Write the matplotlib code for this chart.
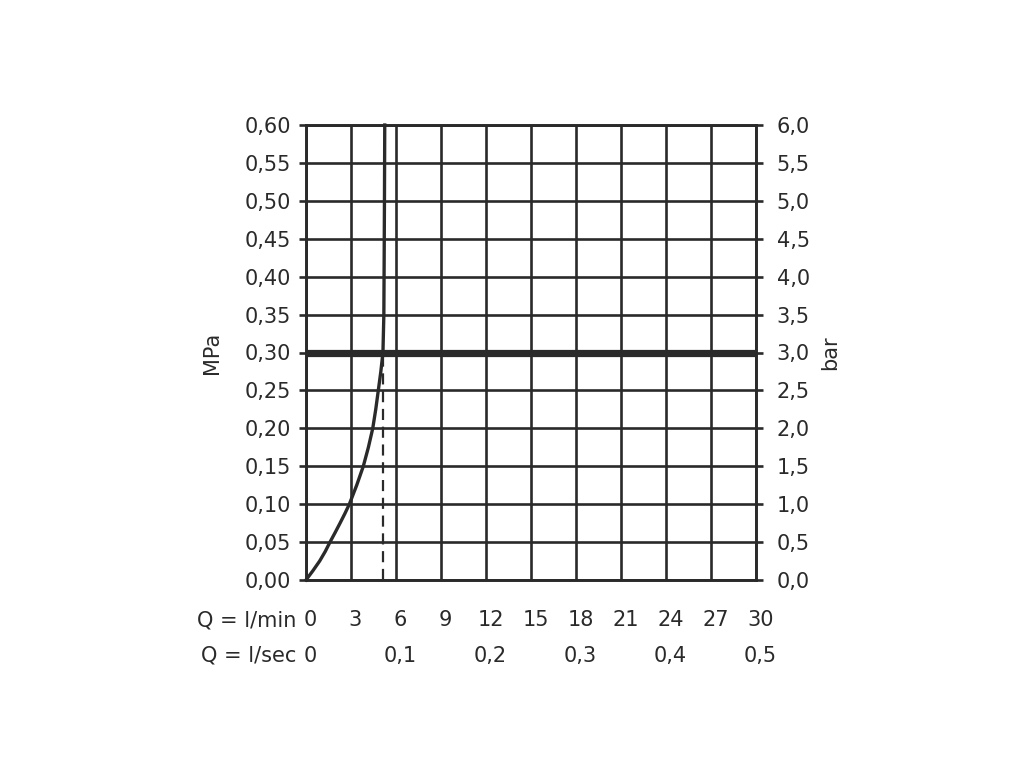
import matplotlib
matplotlib.use("Agg")
import matplotlib.pyplot as plt
import matplotlib.transforms as mtransforms

plt.rcParams['font.family'] = ['DejaVu Sans']

# Data
flow_lmin_ticks = [0, 3, 6, 9, 12, 15, 18, 21, 24, 27, 30]
flow_lsec_pos = [0, 6, 12, 18, 24, 30]
flow_lsec_labels = ["0", "0,1", "0,2", "0,3", "0,4", "0,5"]
mpa_ticks = [0.00, 0.05, 0.10, 0.15, 0.20, 0.25, 0.30, 0.35, 0.40, 0.45, 0.50, 0.55, 0.60]
mpa_labels = ["0,00", "0,05", "0,10", "0,15", "0,20", "0,25", "0,30", "0,35", "0,40", "0,45", "0,50", "0,55", "0,60"]
bar_ticks = [0.0, 0.5, 1.0, 1.5, 2.0, 2.5, 3.0, 3.5, 4.0, 4.5, 5.0, 5.5, 6.0]
bar_labels = ["0,0", "0,5", "1,0", "1,5", "2,0", "2,5", "3,0", "3,5", "4,0", "4,5", "5,0", "5,5", "6,0"]

curve_q = [0.0, 0.47, 0.91, 1.28, 1.6, 1.94, 2.27, 2.59, 2.89, 3.38, 3.82, 4.16, 4.45,
           4.65, 4.82, 4.99, 5.13, 5.19, 5.21, 5.23, 5.25]
curve_p = [0.0, 0.0125, 0.025, 0.0375, 0.05, 0.0625, 0.075, 0.0875, 0.10, 0.125, 0.15,
           0.175, 0.20, 0.225, 0.25, 0.275, 0.30, 0.35, 0.42, 0.50, 0.60]

ref_pressure = 0.30
ref_flow = 5.13

dark = "#2a2a2a"
fs = 15

fig = plt.figure(figsize=(10.24, 7.68), dpi=100)
ax = fig.add_axes([306/1024, 1-580/768, 450/1024, 455/768])
ax.set_xlim(0, 30)
ax.set_ylim(0, 0.60)

# grid
for x in flow_lmin_ticks:
    ax.axvline(x, color=dark, lw=1.9, zorder=1)
for y in mpa_ticks:
    ax.axhline(y, color=dark, lw=1.9, zorder=1)

# thick reference line
ax.axhline(ref_pressure, color=dark, lw=5.2, zorder=3, solid_capstyle='butt')
# dashed drop line
ax.plot([ref_flow, ref_flow], [0, ref_pressure], color=dark, lw=1.6,
        linestyle=(0, (5, 3)), zorder=2)
# curve
ax.plot(curve_q, curve_p, color=dark, lw=2.4, zorder=4, clip_on=False)

for s in ax.spines.values():
    s.set_color(dark)
    s.set_linewidth(1.9)

ax.set_yticks(mpa_ticks)
ax.set_yticklabels(mpa_labels, fontsize=fs, color=dark)
ax.tick_params(axis='y', direction='out', length=5, width=1.9, color=dark, pad=6)
ax.set_ylabel("MPa", fontsize=fs, color=dark, labelpad=16)

ax.set_xticks([])

# bottom label rows
row1_y = -0.088
row2_y = -0.167
for v in flow_lmin_ticks:
    ax.text(v + 0.3, row1_y, str(v), transform=ax.get_xaxis_transform(),
            ha='center', va='center', fontsize=fs, color=dark)
for v, t in zip(flow_lsec_pos, flow_lsec_labels):
    ax.text(v + 0.3, row2_y, t, transform=ax.get_xaxis_transform(),
            ha='center', va='center', fontsize=fs, color=dark)

trans = mtransforms.blended_transform_factory(fig.transFigure, ax.transAxes)
ax.text(296/1024, row1_y, "Q = l/min", transform=trans, ha='right', va='center',
        fontsize=fs, color=dark)
ax.text(296/1024, row2_y, "Q = l/sec", transform=trans, ha='right', va='center',
        fontsize=fs, color=dark)

ax2 = ax.twinx()
ax2.set_ylim(0, 6.0)
ax2.set_yticks(bar_ticks)
ax2.set_yticklabels(bar_labels, fontsize=fs, color=dark)
ax2.tick_params(axis='y', direction='out', length=5, width=1.9, color=dark, pad=10)
ax2.set_ylabel("bar", fontsize=fs, color=dark, rotation=90, labelpad=7)
for s in ax2.spines.values():
    s.set_color(dark)
    s.set_linewidth(1.9)

fig.savefig("out.png", dpi=100, facecolor="white")
